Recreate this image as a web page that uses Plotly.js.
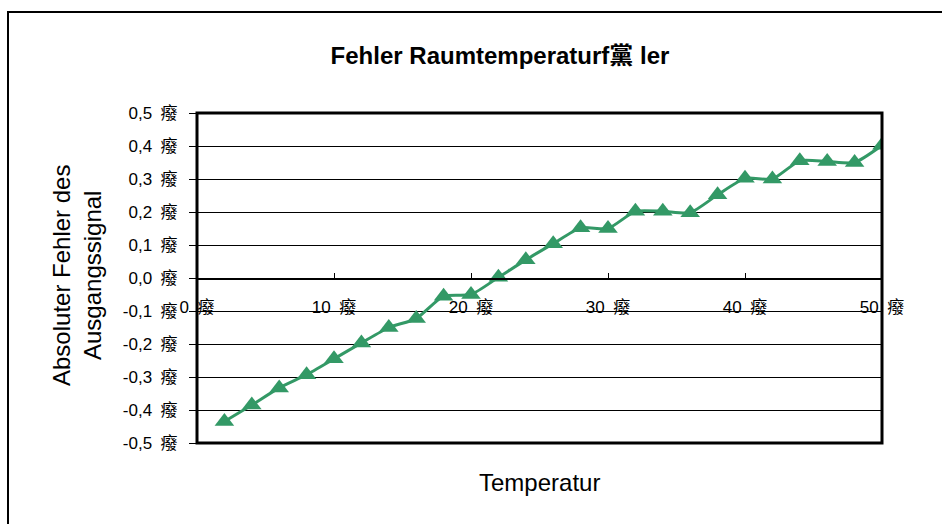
<!DOCTYPE html>
<html>
<head>
<meta charset="utf-8">
<script src="https://cdn.plot.ly/plotly-3.0.1.min.js"></script>
<style>html,body{margin:0;padding:0;background:#fff;}#chart{width:942px;height:524px;}</style>
</head>
<body>
<div id="chart"></div>
<script>
// Data
const temperature = [2,4,6,8,10,12,14,16,18,20,22,24,26,28,30,32,34,36,38,40,42,44,46,48,50];
const absError = [-0.435,-0.385,-0.333,-0.293,-0.245,-0.197,-0.150,-0.123,-0.055,-0.050,0.002,0.055,0.104,0.152,0.150,0.202,0.202,0.198,0.252,0.302,0.300,0.355,0.353,0.350,0.402];
const yTickVals = [0.5,0.4,0.3,0.2,0.1,0.0,-0.1,-0.2,-0.3,-0.4,-0.5];
const yTickText = ["0,5\u2002癈","0,4\u2002癈","0,3\u2002癈","0,2\u2002癈","0,1\u2002癈","0,0\u2002癈","-0,1\u2002癈","-0,2\u2002癈","-0,3\u2002癈","-0,4\u2002癈","-0,5\u2002癈"];
const xTickVals = [0,10,20,30,40,50];
const xTickText = ["0\u2002癈","10\u2002癈","20\u2002癈","30\u2002癈","40\u2002癈","50\u2002癈"];
const titleText = "Fehler Raumtemperaturf黨 ler";
const yTitleText = "Absoluter Fehler des<br>Ausgangssignal";
const xTitleText = "Temperatur";

const FONT = "Liberation Sans, Arial, Noto Sans CJK SC, sans-serif";
const W = 942, H = 524, L = 197, R = 60, T = 113, B = 81;
const pw = W - L - R, ph = H - T - B;
const fx = px => (px - L) / pw;
const fy = py => 1 - (py - T) / ph;

const trace = {
  x: temperature,
  y: absError,
  mode: 'lines+markers',
  type: 'scatter',
  line: {color: '#339966', width: 3, shape: 'spline', smoothing: 0.6},
  marker: {symbol: 'triangle-up', size: 17, color: '#339966'},
  hoverinfo: 'skip'
};

const layout = {
  width: W, height: H,
  margin: {l: L, r: R, t: T, b: B},
  paper_bgcolor: '#ffffff',
  plot_bgcolor: '#ffffff',
  showlegend: false,
  font: {family: FONT, color: '#000000', size: 17},
  title: {
    text: '<b>' + titleText + '</b>',
    font: {family: FONT, size: 24, color: '#000000'},
    xref: 'container', yref: 'container',
    x: 500 / W, y: 1 - 56 / H, xanchor: 'center', yanchor: 'middle'
  },
  xaxis: {
    range: [0, 50],
    tickvals: xTickVals,
    ticktext: xTickText,
    ticks: 'inside', ticklen: 5, tickwidth: 1, tickcolor: '#000000',
    showgrid: false, zeroline: false,
    showline: true, linecolor: '#000000', linewidth: 1.5,
    anchor: 'free', position: 0.5,
    ticklabelstandoff: 13,
    tickfont: {family: FONT, size: 17, color: '#000000'},
    fixedrange: true
  },
  yaxis: {
    range: [-0.5, 0.5],
    tickvals: yTickVals,
    ticktext: yTickText,
    ticks: 'outside', ticklen: 7, tickwidth: 1, tickcolor: '#000000',
    showgrid: true, gridcolor: '#000000', gridwidth: 1,
    zeroline: false, showline: false,
    ticklabelstandoff: 8,
    tickfont: {family: FONT, size: 17, color: '#000000'},
    fixedrange: true
  },
  shapes: [
    {type: 'rect', xref: 'x domain', yref: 'y domain', x0: 0, x1: 1, y0: 0, y1: 1,
     line: {color: '#000000', width: 3}, fillcolor: 'rgba(0,0,0,0)', layer: 'above'},
    {type: 'rect', xref: 'paper', yref: 'paper', x0: fx(8), x1: fx(952), y0: fy(535), y1: fy(12),
     line: {color: '#000000', width: 2}, fillcolor: 'rgba(0,0,0,0)'}
  ],
  annotations: [
    {text: yTitleText, xref: 'paper', yref: 'paper', x: fx(77), y: fy(276),
     xanchor: 'center', yanchor: 'middle', textangle: -90, showarrow: false,
     font: {family: FONT, size: 24, color: '#000000'}},
    {text: xTitleText, xref: 'paper', yref: 'paper', x: fx(539), y: fy(482),
     xanchor: 'center', yanchor: 'middle', showarrow: false,
     font: {family: FONT, size: 24, color: '#000000'}}
  ]
};

Plotly.newPlot('chart', [trace], layout, {displayModeBar: false, staticPlot: true});
</script>
</body>
</html>
